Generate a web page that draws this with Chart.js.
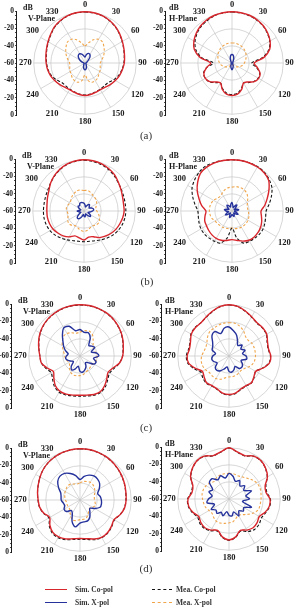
<!DOCTYPE html>
<html>
<head>
<meta charset="utf-8">
<title>Radiation patterns</title>
<script src="https://cdn.jsdelivr.net/npm/chart.js"></script>
<style>
  html, body { margin: 0; padding: 0; background: #fff; }
  body { position: relative; width: 297px; height: 609px; overflow: hidden; font-family: "Liberation Serif", "DejaVu Serif", serif; }
  canvas, .txt, .swatch { position: absolute; }
  .txt { white-space: nowrap; color: #1a1a1a; font-weight: bold; line-height: 1; }
  .unit, .plane { font-size: 8px; }
  .cap { font-weight: normal; font-size: 11px; color: #333; transform: translate(-50%, -50%); }
  .leg { font-size: 7.5px; color: #333; transform: translateY(-50%); }
  .swatch { width: 22px; height: 0; }
</style>
</head>
<body>
<script>
// angles of the polar plots (deg, clockwise from top)
const ANGLES = [0, 10, 20, 30, 40, 50, 60, 70, 80, 90, 100, 110, 120, 130, 140, 150, 160, 170,
  180, 190, 200, 210, 220, 230, 240, 250, 260, 270, 280, 290, 300, 310, 320, 330, 340, 350];

// (a) V-plane
const simCoAV = [0,-0.3,-1,-2.5,-4.5, -7,-9.5,-11.5,-13,-14, -15.5,-17,-19,-21,-23, -24,-23.5,-22.5,-22,-22.5, -23.5,-24,-23,-21,-19, -17,-15.5,-14.5,-13.5,-12, -10,-7.5,-4.5,-2.5,-1, -0.3];
const meaCoAV = [-0.3,-0.5,-1.2,-2.8,-4.8, -7.3,-9.8,-11.8,-13.3,-14.5, -16,-18,-21,-24.5,-25, -24.5,-24,-23,-22.5,-23, -24,-24.5,-25,-24.5,-21, -18,-16,-15,-14,-12.5, -10.5,-8,-5,-3,-1.3, -0.5];
const simXAV = [-53,-50,-48,-48.5,-51, -55,-57,-58,-58.5,-59, -59,-59,-59,-58.5,-58, -57,-55,-53,-52,-53, -55,-57,-58,-58.5,-59, -59,-59,-58.5,-58,-56, -53,-50,-48,-47.5,-49, -51.5];
const meaXAV = [-40,-36,-31,-28,-28, -31,-34,-37,-40,-42, -42,-41,-40,-39,-37, -36,-36,-39,-46,-39, -36,-36,-37,-39,-40, -41,-42,-42,-40,-37, -34,-31,-28,-28,-31, -36];
// (a) H-plane
const simCoAH = [0,-0.2,-0.5,-1.5,-3, -5.5,-8.5,-13,-22,-34, -30,-25,-24,-26,-31, -33,-27,-23,-22,-23, -27,-33,-31,-26,-24, -25,-30,-35,-22,-13, -8.5,-5.5,-3,-1.5,-0.5, -0.2];
const meaCoAH = [-0.3,-0.5,-1,-2,-3.5, -6,-9,-14,-24,-37, -31,-25.5,-24.5,-26.5,-30, -33,-28,-24,-23,-24, -28,-33,-30,-25.5,-24, -24.5,-30,-38,-24,-15, -10,-6.5,-4,-2.5,-1, -0.5];
const simXAH = [-50,-51,-54,-57,-58.5, -59,-59,-59,-59,-59, -59,-59,-59,-59,-59, -58,-56,-54,-52,-54, -56,-58,-59,-59,-59, -59,-59,-59,-59,-59, -59,-59,-58.5,-57,-54, -51];
const meaXAH = [-36.5,-36.5,-37,-37.5,-38.5, -39.5,-41,-42.5,-44,-45.5, -47,-49,-51,-53,-55, -57,-58,-58.5,-59,-58.5, -58,-57,-55,-53,-51, -49,-47,-45.5,-44,-42.5, -41,-39.5,-38.5,-37.5,-37, -36.5];

// (b) V-plane
const simCoBV = [0,-0.3,-1,-2.5,-4.5, -7.5,-10,-12,-13,-13, -14,-15.5,-17,-19,-21.5, -24,-28,-29,-26,-28, -29,-25,-22,-20,-18, -17,-16.5,-16.5,-16,-14.5, -12.5,-9,-6,-3.5,-1.5, -0.5];
const meaCoBV = [-0.5,-1,-2,-3.5,-5.5, -8,-9.5,-10.5,-11,-11, -11.5,-12.5,-14,-16,-18.5, -21,-23,-24,-24,-24, -23,-21,-18.5,-16,-14, -13,-12.5,-12.5,-12.5,-12, -11,-9,-6.5,-4,-2, -1];
const simXBV = [-51,-53,-55,-52,-50, -52,-53,-50,-48.5,-50, -53,-55,-52,-50,-53, -56,-55,-53,-54,-56, -53,-50,-48.5,-50,-54, -56,-54,-52,-55,-56, -53,-51,-52,-50,-49.5, -50];
const meaXBV = [-36,-35.5,-37,-39,-40, -41,-43,-45,-46,-45, -43,-41,-39,-38,-38.5, -40,-39,-37,-36,-37, -39,-40,-38,-37,-38, -40,-41,-40,-39,-40, -41,-40,-38,-36.5,-35, -35];
// (b) H-plane
const simCoBH = [0,0,-0.2,-0.5,-1.5, -4,-10,-16,-21,-26, -25,-23,-21.5,-20.5,-20, -20.5,-22.5,-25,-26.5,-25, -23.5,-23,-23.5,-24.5,-25.5, -26,-28,-29.5,-24,-19, -13,-7.5,-2.5,-0.7,0, 0];
const meaCoBH = [0,0,0,0,-1, -3,-6,-11,-16,-20, -20,-19,-18,-18,-18.5, -19,-20,-28,-40,-28, -20,-19,-18.5,-18,-18, -19,-20,-20,-16,-11, -6,-3,-0.5,1,0.5, 0];
const simXBH = [-50,-54,-56,-53,-51, -55,-57,-54,-52,-55, -57,-54,-52,-55,-57, -55,-53,-55,-56,-54, -52,-55,-57,-54,-51, -54,-56,-53,-51,-54, -56,-53,-51,-53,-55, -52];
const meaXBH = [-32,-31,-31,-31.5,-33, -36,-39,-41,-41.5,-41, -40,-39,-38.5,-38,-38, -38,-38.5,-39,-40,-39, -38.5,-38,-38,-37.5,-37, -35,-34,-33.5,-33.5,-34, -35,-37,-38,-36.5,-34, -32.5];

// (c) V-plane
const simCoCV = [0,0,-0.3,-0.8,-1.5, -3,-4.5,-6.5,-8.5,-10, -13,-19,-22,-19,-15, -12,-12,-13.5,-14,-13.5, -12.5,-12.5,-15,-20,-24, -19,-14,-13,-11,-8.5, -6,-4,-2.5,-1.5,-0.7, -0.2];
const meaCoCV = [-0.3,-0.3,-0.5,-1,-1.8, -3.2,-4.8,-6.8,-8.8,-10.2, -13,-17.5,-20,-17.5,-13.5, -11,-11,-12.5,-13,-12.5, -11.5,-11,-13.5,-18,-21, -17.5,-14,-13,-11.2,-8.8, -6.3,-4.3,-2.8,-1.8,-1, -0.5];
const simXCV = [-29,-32,-31,-36,-44, -42,-40,-46,-40,-38, -44,-40,-41,-48,-50, -46,-43,-41,-42,-48, -44,-41,-44,-50,-48, -45,-43,-44,-46,-42, -38,-34,-28,-22,-23, -30];
const meaXCV = [-32,-30,-29,-31,-36, -40,-42,-42,-41,-40, -40,-41,-42,-43,-42, -41,-40,-38,-37,-36.5, -36.5,-38,-41,-44,-45, -44,-43,-42,-41,-39, -36,-33,-30,-29.5,-31, -33];
// (c) H-plane
const simCoCH = [0,-1,-4,-7,-9, -8.5,-9,-12,-13,-11, -12,-18,-24,-22,-19, -20,-19,-16,-15,-16, -19,-20,-19,-22,-24, -18,-12,-11,-13,-12, -9,-8.5,-9,-7,-4, -1];
const meaCoCH = [-0.3,-1.3,-4.3,-7.3,-9.5, -9,-9.5,-12.5,-13.5,-11.5, -12.5,-18.5,-24,-21.5,-19, -19.5,-18.5,-15.5,-14.5,-15.5, -18.5,-19.5,-18.5,-20,-22, -16.5,-11,-10,-12,-11.5, -8.5,-8,-9,-7.3,-4.3, -1.3];
const simXCH = [-26,-30,-34,-40,-44, -40,-44,-40,-44,-40, -39,-45,-42,-40,-41, -46,-43,-41,-42,-47, -44,-40,-38,-39,-44, -41,-39.5,-41,-44,-39, -38,-35,-29,-27,-32, -27];
const meaXCH = [-21,-21,-23,-26,-30, -31,-29.5,-29,-29,-29, -29.5,-31,-34,-37,-38, -37,-36,-35.5,-35.5,-34, -31,-29.5,-29.5,-30,-28, -27,-27,-28,-30,-31, -30,-27,-24,-23,-22, -21];

// (d) V-plane
const simCoDV = [0,0,-0.3,-0.8,-1.5, -2.5,-3.5,-4.5,-5.5,-6, -7,-10,-14,-12,-10, -9.5,-11.5,-14,-15,-14, -11.5,-10,-10.5,-14,-19, -15,-12,-11,-9.5,-8, -6,-4,-2.5,-1.5,-0.8, -0.2];
const meaCoDV = [-0.2,-0.2,-0.5,-1,-1.7, -2.7,-3.7,-4.7,-5.7,-6.2, -7.2,-10,-13.5,-11.5,-9.5, -9,-10.5,-13,-14,-13, -10.5,-9,-9.5,-13,-18, -14.5,-11.8,-10.8,-9.5,-8, -6,-4,-2.5,-1.5,-0.8, -0.4];
const simXDV = [-36,-32,-29,-27.5,-28, -30,-34,-38,-36,-35, -34.5,-35,-40,-45,-42, -37,-34,-34,-33,-28, -33,-42,-44,-39,-38.5, -41,-40,-38,-37.5,-36, -31,-26,-23.5,-24,-27, -31];
const meaXDV = [-40,-38,-37,-36,-36.5, -38,-40,-42,-43,-43, -42,-41,-43,-45,-44, -41,-38,-37,-37,-35.5, -35,-38,-42,-44,-44, -44,-44,-43,-42,-41, -40,-39,-38,-38.5,-40, -41];
// (d) H-plane
const simCoDH = [0,-4,-6,-2,-1.5, -4,-8,-15,-16,-12, -12,-15,-19,-17,-16, -18,-21,-15,-12,-15, -21,-18,-16,-17,-19, -15,-12,-12,-16,-15, -8,-4,-1.5,-2,-6, -4];
const meaCoDH = [-0.3,-4.3,-6.3,-2.3,-1.8, -4.3,-8.3,-14,-15,-11.5, -11.5,-14,-16,-14,-13.5, -16,-20,-14.5,-11.5,-14.5, -20,-17,-15,-15.5,-17.5, -14,-11.5,-11.5,-15,-14.5, -8.3,-4.3,-1.8,-2.3,-6.3, -4.3];
const simXDH = [-30,-33,-38,-35,-40, -36,-40,-32,-40,-36, -44,-32,-40,-38,-42, -37,-44,-40,-41,-45, -39,-42,-38,-40,-36, -42,-34,-36,-40,-35, -38,-30,-29,-34,-31, -35];
const meaXDH = [-30,-30,-31,-30,-28, -25,-22.5,-21.5,-22,-22.5, -23,-23.5,-27,-32,-36, -38,-36,-33,-32,-31, -30,-30,-32,-34,-33, -31,-30,-29,-28,-28, -29,-31,-33,-31,-30, -30];

const SERIES_NAMES = ['Sim. Co-pol', 'Mea. Co-pol', 'Sim. X-pol', 'Mea. X-pol'];
const SERIES_COLORS = ['#d8262c', '#141414', '#25329b', '#f0a54a'];
const SERIES_WIDTHS = [1.4, 1.1, 1.4, 1.1];
const SERIES_DASH = [[], [3, 2], [], [2.5, 2]];

const R = 51;          // radius of the 0 dB circle
const AXIS_HALF = 52;  // half length of the side dB axis
const GRID = '#c6c6c6';
const FONT = '"Liberation Serif", serif';

const panels = [
  { cx: 85,  cy: 63,  ax: 17,  plane: 'V-Plane', right: false, data: [simCoAV, meaCoAV, simXAV, meaXAV] },
  { cx: 232, cy: 63,  ax: 166, plane: 'H-Plane', right: true,  data: [simCoAH, meaCoAH, simXAH, meaXAH] },
  { cx: 84,  cy: 211, ax: 16,  plane: 'V-Plane', right: false, data: [simCoBV, meaCoBV, simXBV, meaXBV] },
  { cx: 232, cy: 211, ax: 166, plane: 'H-Plane', right: true,  data: [simCoBH, meaCoBH, simXBH, meaXBH] },
  { cx: 80,  cy: 356, ax: 12,  plane: 'V-Plane', right: false, data: [simCoCV, meaCoCV, simXCV, meaXCV] },
  { cx: 229, cy: 356, ax: 162, plane: 'H-Plane', right: true,  data: [simCoCH, meaCoCH, simXCH, meaXCH] },
  { cx: 80,  cy: 500, ax: 12,  plane: 'V-Plane', right: false, data: [simCoDV, meaCoDV, simXDV, meaXDV] },
  { cx: 229, cy: 499, ax: 162, plane: 'H-Plane', right: true,  data: [simCoDH, meaCoDH, simXDH, meaXDH] }
];

const captions = [['(a)', 146, 135], ['(b)', 147, 281], ['(c)', 146, 427], ['(d)', 146, 568]];

function polarConfig(p) {
  return {
    type: 'radar',
    data: {
      labels: ANGLES,
      datasets: p.data.map((vals, k) => ({
        label: SERIES_NAMES[k],
        data: vals,
        borderColor: SERIES_COLORS[k],
        borderWidth: SERIES_WIDTHS[k],
        borderDash: SERIES_DASH[k],
        borderJoinStyle: 'round',
        backgroundColor: 'transparent',
        fill: false,
        pointRadius: 0,
        pointHoverRadius: 0,
        tension: 0.3
      }))
    },
    options: {
      responsive: false,
      animation: false,
      events: [],
      plugins: { legend: { display: false }, tooltip: { enabled: false } },
      scales: {
        r: {
          min: -60,
          max: 0,
          ticks: { display: false, stepSize: 20 },
          grid: { circular: true, color: GRID, lineWidth: 0.7 },
          angleLines: { color: GRID, lineWidth: ctx => (ctx.index % 3 === 0 ? 0.7 : 0) },
          pointLabels: {
            padding: 2,
            color: '#1a1a1a',
            font: { family: FONT, size: 8.5, weight: 'bold' },
            callback: lab => (lab % 30 === 0 ? String(lab) : '')
          }
        }
      }
    }
  };
}

function axisConfig() {
  return {
    type: 'line',
    data: { labels: [], datasets: [] },
    options: {
      responsive: false,
      animation: false,
      events: [],
      layout: { padding: { top: 6, bottom: 6, left: 0, right: 0 } },
      plugins: { legend: { display: false }, tooltip: { enabled: false } },
      scales: {
        x: { display: false },
        y: {
          position: 'left',
          min: -60,
          max: 60,
          ticks: {
            stepSize: 5,
            maxTicksLimit: 40,
            autoSkip: false,
            padding: 1,
            color: '#1a1a1a',
            font: { family: FONT, size: 7.5, weight: 'bold' },
            callback: v => (v % 20 === 0 ? String(Math.abs(v) - 60) : '')
          },
          grid: { drawOnChartArea: false, drawTicks: true, tickLength: 2, tickColor: '#1a1a1a', tickWidth: 0.8 },
          border: { display: true, color: '#1a1a1a', width: 1 }
        }
      }
    }
  };
}

function newCanvas(w, h) {
  const cv = document.createElement('canvas');
  cv.width = w;
  cv.height = h;
  document.body.appendChild(cv);
  return cv;
}

// side dB axis, sized so that it spans the 0..0 dB diameter
function placeAxis(p) {
  let h = 2 * AXIS_HALF + 16, chart = null, cv = null;
  for (let i = 0; i < 4; i++) {
    if (chart) { chart.destroy(); cv.remove(); }
    cv = newCanvas(34, h);
    chart = new Chart(cv, axisConfig());
    const len = chart.scales.y.bottom - chart.scales.y.top;
    if (Math.abs(len - 2 * AXIS_HALF) < 0.5) break;
    h += Math.round(2 * AXIS_HALF - len);
  }
  const y = chart.scales.y;
  cv.style.left = Math.round(p.ax - y.right) + 'px';
  cv.style.top = Math.round(p.cy - AXIS_HALF - y.top) + 'px';
}

// polar plot, sized so that the 0 dB circle has radius R, centred on (cx, cy)
function placePolar(p) {
  let size = 134, chart = null, cv = null;
  for (let i = 0; i < 4; i++) {
    if (chart) { chart.destroy(); cv.remove(); }
    cv = newCanvas(size, size);
    chart = new Chart(cv, polarConfig(p));
    const d = chart.scales.r.drawingArea;
    if (Math.abs(d - R) < 0.3) break;
    size += Math.round(2 * (R - d));
  }
  const sc = chart.scales.r;
  cv.style.left = Math.round(p.cx - sc.xCenter) + 'px';
  cv.style.top = Math.round(p.cy - sc.yCenter) + 'px';
}

function addText(txt, cls, x, y) {
  const el = document.createElement('div');
  el.className = 'txt ' + cls;
  el.textContent = txt;
  el.style.left = x + 'px';
  el.style.top = y + 'px';
  document.body.appendChild(el);
  return el;
}

panels.forEach(p => {
  placeAxis(p);
  placePolar(p);
  addText('dB', 'unit', p.ax + (p.right ? 3 : 6), p.cy - 59);
  addText(p.plane, 'plane', p.ax + (p.right ? 3 : 11), p.cy - 48);
});

captions.forEach(c => addText(c[0], 'cap', c[1], c[2]));

// legend (2 x 2)
const legendPos = [[45, 589.5], [152, 589.5], [45, 602.5], [152, 602.5]];
legendPos.forEach((pos, k) => {
  const sw = document.createElement('div');
  sw.className = 'swatch';
  sw.style.left = pos[0] + 'px';
  sw.style.top = (pos[1] - 0.5) + 'px';
  sw.style.width = (k % 2 === 0 ? 22 : 20) + 'px';
  sw.style.borderTop = (k % 2 === 0 ? '1.4px solid ' : '1px dashed ') + SERIES_COLORS[k === 1 ? 1 : k === 2 ? 2 : k === 3 ? 3 : 0];
  document.body.appendChild(sw);
  addText(SERIES_NAMES[k], 'leg', pos[0] + (k % 2 === 0 ? 30 : 24), pos[1]);
});
</script>
</body>
</html>
